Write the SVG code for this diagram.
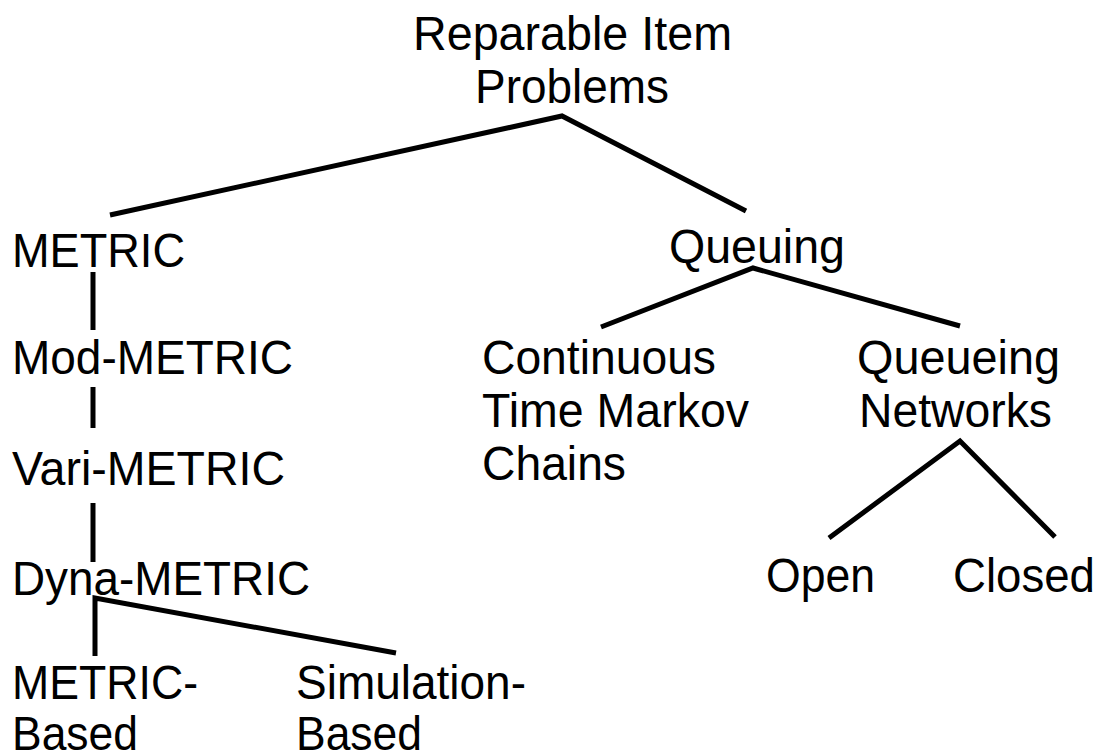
<svg xmlns="http://www.w3.org/2000/svg" width="1104" height="755" viewBox="0 0 1104 755">
  <style>
    .lbl { font-family: "Liberation Sans", Arial, Helvetica, sans-serif; font-size: 48px; fill: #000; }
    .edge { fill: none; stroke: #000; stroke-width: 5; stroke-linejoin: miter; stroke-linecap: butt; }
  </style>
  <rect width="1104" height="755" fill="#fff"/>

  <!-- tree branches -->
  <g id="connectors">
    <polyline class="edge" points="110,215 562,116 746,211"/>
    <line class="edge" x1="93" y1="272" x2="93" y2="330"/>
    <line class="edge" x1="93" y1="387" x2="93" y2="428"/>
    <line class="edge" x1="93" y1="503" x2="93" y2="562"/>
    <polyline class="edge" points="95,656 95,598 396,653"/>
    <polyline class="edge" points="601,327 753,268 960,326"/>
    <polyline class="edge" points="829,538 960,441 1055,537"/>
  </g>

  <g id="root">
    <text class="lbl" x="413" y="50" textLength="319" lengthAdjust="spacingAndGlyphs">Reparable Item</text>
    <text class="lbl" x="475" y="103" textLength="194" lengthAdjust="spacingAndGlyphs">Problems</text>
  </g>
  <g id="metric"><text class="lbl" x="12" y="267" textLength="173" lengthAdjust="spacingAndGlyphs">METRIC</text></g>
  <g id="mod-metric"><text class="lbl" x="12" y="374" textLength="281" lengthAdjust="spacingAndGlyphs">Mod-METRIC</text></g>
  <g id="vari-metric"><text class="lbl" x="12" y="485" textLength="273" lengthAdjust="spacingAndGlyphs">Vari-METRIC</text></g>
  <g id="dyna-metric"><text class="lbl" x="12" y="595" textLength="298" lengthAdjust="spacingAndGlyphs">Dyna-METRIC</text></g>
  <g id="metric-based">
    <text class="lbl" x="12" y="699" textLength="186" lengthAdjust="spacingAndGlyphs">METRIC-</text>
    <text class="lbl" x="12" y="750" textLength="126" lengthAdjust="spacingAndGlyphs">Based</text>
  </g>
  <g id="simulation-based">
    <text class="lbl" x="296" y="699" textLength="230" lengthAdjust="spacingAndGlyphs">Simulation-</text>
    <text class="lbl" x="296" y="750" textLength="126" lengthAdjust="spacingAndGlyphs">Based</text>
  </g>
  <g id="queuing"><text class="lbl" x="669" y="263" textLength="176" lengthAdjust="spacingAndGlyphs">Queuing</text></g>
  <g id="ctmc">
    <text class="lbl" x="482" y="374" textLength="234" lengthAdjust="spacingAndGlyphs">Continuous</text>
    <text class="lbl" x="482" y="427" textLength="267" lengthAdjust="spacingAndGlyphs">Time Markov</text>
    <text class="lbl" x="482" y="480" textLength="144" lengthAdjust="spacingAndGlyphs">Chains</text>
  </g>
  <g id="queueing-networks">
    <text class="lbl" x="857" y="374" textLength="203" lengthAdjust="spacingAndGlyphs">Queueing</text>
    <text class="lbl" x="859" y="427" textLength="193" lengthAdjust="spacingAndGlyphs">Networks</text>
  </g>
  <g id="open"><text class="lbl" x="766" y="592" textLength="109" lengthAdjust="spacingAndGlyphs">Open</text></g>
  <g id="closed"><text class="lbl" x="953" y="592" textLength="142" lengthAdjust="spacingAndGlyphs">Closed</text></g>
</svg>
